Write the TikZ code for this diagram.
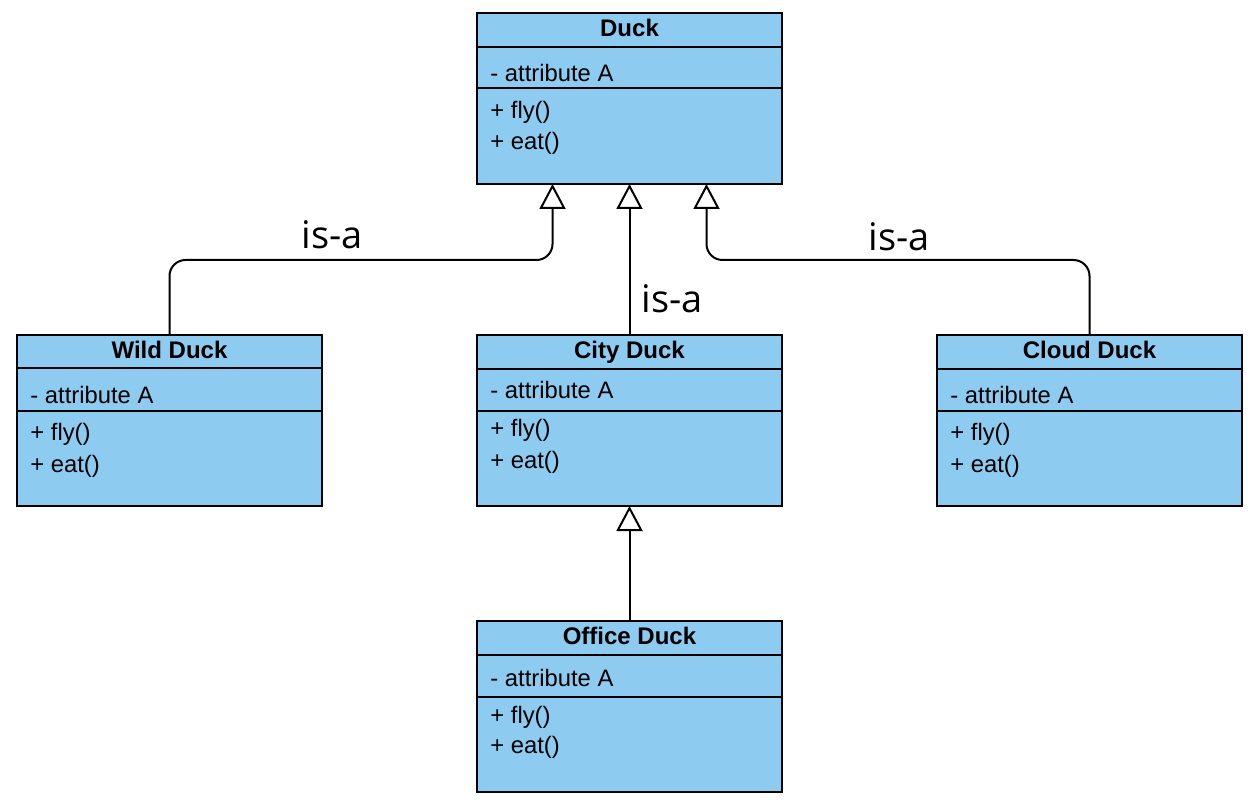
\documentclass[tikz,border=0pt]{standalone}
\usepackage{fontspec}
\setmainfont{Liberation Sans}
\newfontfamily\isafont{Open Sans}
\usetikzlibrary{arrows.meta,calc}
\definecolor{boxblue}{RGB}{142,203,240}
\tikzset{
  classbox/.style={draw=black, fill=boxblue, line width=1pt, inner sep=0pt, outer sep=0pt,
    minimum width=152.5pt, minimum height=85.5pt},
  sepline/.style={draw=black, line width=1pt},
  classtitle/.style={inner sep=0pt, anchor=base, font=\fontsize{12}{14}\selectfont\bfseries},
  member/.style={inner sep=0pt, anchor=base west, font=\fontsize{11.9}{14}\selectfont},
  isalabel/.style={inner sep=0pt, anchor=base, font=\isafont\fontsize{19}{22}\selectfont},
  inh/.style={draw=black, line width=1pt, rounded corners=8pt,
    -{Triangle[open, length=12.5pt, width=13pt]}}
}
% name, left, top, title, title base, attr base, fly base, eat base
\newcommand{\umlbox}[8]{%
  \node[classbox] (#1) at ({#2+152.5},{#3+85.5}) {};
  \node[classtitle] (#1-title) at ($(#1.north)+(0,#5)$) {#4};
  \node[member] (#1-attr) at ($(#1.north west)+(13,#6)$) {- attribute A};
  \node[member] (#1-fly) at ($(#1.north west)+(13,#7)$) {+ fly()};
  \node[member] (#1-eat) at ($(#1.north west)+(13,#8)$) {+ eat()};
}
\newcommand{\umlseps}[3]{%
  \draw[sepline] ($(#1.north west)+(0,#2)$) -- ($(#1.north east)+(0,#2)$);
  \draw[sepline] ($(#1.north west)+(0,#3)$) -- ($(#1.north east)+(0,#3)$);
}
\begin{document}
\begin{tikzpicture}[x=0.5pt, y=-0.5pt]
\useasboundingbox (0,0) rectangle (1256,806);
\umlbox{duck}{477}{13}{Duck}{24}{69}{106}{137}
\umlseps{duck}{34}{75}
\umlbox{wild}{17}{335}{Wild Duck}{23.5}{68}{105}{137}
\umlseps{wild}{33.5}{76}
\umlbox{city}{477}{335}{City Duck}{24}{64}{102}{133}
\umlseps{city}{34}{76}
\umlbox{cloud}{937}{335}{Cloud Duck}{23.5}{68}{105}{137}
\umlseps{cloud}{34}{76}
\umlbox{office}{477}{621}{Office Duck}{23}{65}{102}{132}
\umlseps{office}{34}{76}

\coordinate (lvl) at (0,260);
\coordinate (dl) at ([xshift=-38.5pt]duck.south);
\coordinate (dr) at ([xshift=38.5pt]duck.south);

\draw[inh] (wild.north) -- (wild.north |- lvl) -- (dl |- lvl) -- (dl);
\draw[inh] (cloud.north) -- (cloud.north |- lvl) -- (dr |- lvl) -- (dr);
\draw[inh] (city.north) -- (duck.south);
\draw[inh] (office.north) -- (city.south);

\node[isalabel] (isa-left) at (332,249) {is-a};
\node[isalabel] (isa-mid) at (672,313) {is-a};
\node[isalabel] (isa-right) at (899,250.5) {is-a};
\end{tikzpicture}
\end{document}
